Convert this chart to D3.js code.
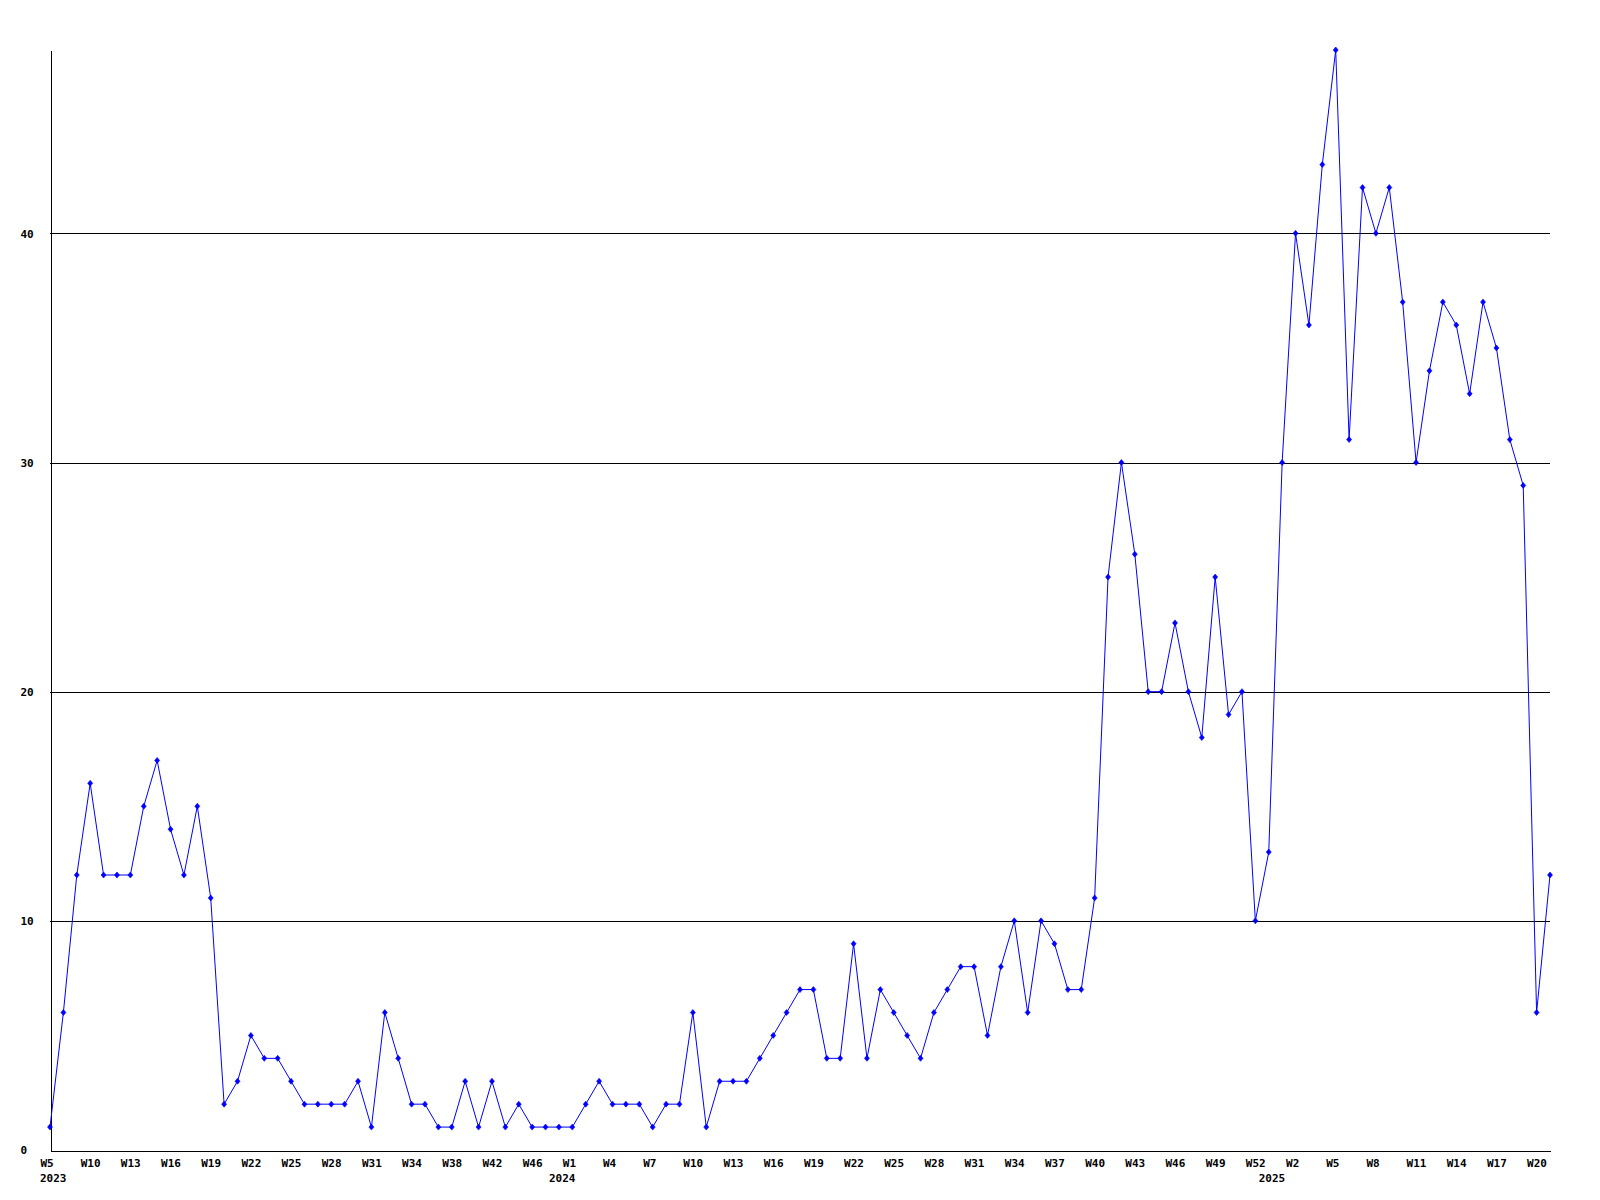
<!DOCTYPE html>
<html>
<head>
<meta charset="utf-8">
<script src="https://cdn.jsdelivr.net/npm/d3@7"></script>
<style>
  html, body { margin: 0; padding: 0; background: #ffffff; }
  svg { display: block; }
  text { font-family: "DejaVu Sans Mono", monospace; font-weight: bold; font-size: 11px; fill: #000; }
</style>
</head>
<body>
<svg id="chart" width="1600" height="1200"></svg>
<script>
// ---- data ----
const weeks2023 = ["W5","W7","W8","W10","W11","W12","W13","W14","W15","W16","W17","W18","W19","W20","W21","W22","W23","W24","W25","W26","W27","W28","W29","W30","W31","W32","W33","W34","W35","W36","W38","W39","W40","W42","W43","W44","W46","W48"];
const weeks2024 = ["W0","W1","W2","W3","W4","W5","W6","W7","W8","W9","W10","W11","W12","W13","W14","W15","W16","W17","W18","W19","W20","W21","W22","W23","W24","W25","W26","W27","W28","W29","W30","W31","W32","W33","W34","W35","W36","W37","W38","W39","W40","W41","W42","W43","W44","W45","W46","W47","W48","W49","W50","W51","W52"];
const weeks2025 = ["W0","W1","W2","W3","W4","W5","W6","W7","W8","W9","W10","W11","W12","W13","W14","W15","W16","W17","W18","W19","W20","W21"];
const yearNames = ["2023","2024","2025"];
const values = [
  1,6,12,16,12,12,12,15,17,14,
  12,15,11,2,3,5,4,4,3,2,
  2,2,2,3,1,6,4,2,2,1,
  1,3,1,3,1,2,1,1,1,1,
  2,3,2,2,2,1,2,2,6,1,
  3,3,3,4,5,6,7,7,4,4,
  9,4,7,6,5,4,6,7,8,8,
  5,8,10,6,10,9,7,7,11,25,
  30,26,20,20,23,20,18,25,19,20,
  10,13,30,40,36,43,48,31,42,40,
  42,37,30,34,37,36,33,37,35,31,
  29,6,12
];
const yTicks = [0,10,20,30,40];
const yMax = 48;

(function () {
  // ---- build table ----
  const weekLists = [weeks2023, weeks2024, weeks2025];
  const points = [];
  weekLists.forEach((list, yi) => list.forEach(w => points.push({year: yearNames[yi], week: w})));
  points.forEach((p, i) => { p.value = values[i]; p.key = p.year + "-" + p.week; p.idx = i; });

  // ---- layout ----
  const plotLeft = 50, plotRight = 1550, plotTop = 50, plotBottom = 1150;
  const svg = d3.select("#chart");

  const x = d3.scalePoint().domain(points.map(p => p.key)).range([plotLeft, plotRight]);
  const y = d3.scaleLinear().domain([0, yMax]).range([plotBottom, plotTop]);

  // grid lines
  svg.append("g").selectAll("line")
    .data(yTicks.filter(t => t > 0))
    .join("line")
    .attr("x1", plotLeft).attr("x2", plotRight)
    .attr("y1", d => Math.round(y(d)) + 0.5).attr("y2", d => Math.round(y(d)) + 0.5)
    .attr("stroke", "#000").attr("stroke-width", 1)
    .attr("shape-rendering", "crispEdges");

  // y axis
  const yAxis = svg.append("g").attr("transform", `translate(${plotLeft + 0.5},0)`)
    .call(d3.axisLeft(y).tickValues(yTicks).tickSize(0).tickPadding(0).tickFormat(d3.format("d")));
  yAxis.select(".domain").attr("stroke", "#000").attr("shape-rendering", "crispEdges");
  yAxis.selectAll(".tick text")
    .attr("text-anchor", "start")
    .attr("x", 20 - plotLeft)
    .attr("dy", "0.35em")
    .style("font-family", '"DejaVu Sans Mono", monospace')
    .style("font-weight", "bold")
    .style("font-size", "11px");

  // x axis
  const tickKeys = points.filter(p => p.idx % 3 === 0).map(p => p.key);
  const labelOf = new Map(points.map(p => [p.key, p.week]));
  const xAxis = svg.append("g").attr("transform", `translate(0,${plotBottom + 0.5})`)
    .call(d3.axisBottom(x).tickValues(tickKeys).tickSize(0).tickPadding(0).tickFormat(k => labelOf.get(k)));
  xAxis.select(".domain").attr("stroke", "#000").attr("shape-rendering", "crispEdges");
  xAxis.selectAll(".tick text")
    .attr("text-anchor", "start")
    .attr("x", -10)
    .attr("y", 16)
    .attr("dy", 0)
    .style("font-family", '"DejaVu Sans Mono", monospace')
    .style("font-weight", "bold")
    .style("font-size", "11px");

  // year labels where the year changes
  const yearStarts = points.filter((p, i) => i === 0 || points[i - 1].year !== p.year);
  svg.append("g").selectAll("text")
    .data(yearStarts)
    .join("text")
    .attr("x", d => x(d.key) - 10)
    .attr("y", plotBottom + 32)
    .attr("text-anchor", "start")
    .text(d => d.year);

  // line
  const line = d3.line().x(d => x(d.key)).y(d => y(d.value));
  svg.append("path")
    .datum(points)
    .attr("d", line)
    .attr("fill", "none")
    .attr("stroke", "#0000ff")
    .attr("stroke-width", 1);

  // markers
  const diamond = "M0,-3L2.5,0L0,3L-2.5,0Z";
  svg.append("g").selectAll("path")
    .data(points)
    .join("path")
    .attr("transform", d => `translate(${x(d.key)},${y(d.value)})`)
    .attr("d", diamond)
    .attr("fill", "#0000ff")
    .attr("stroke", "#0000ff")
    .attr("stroke-width", 0.6);
})();
</script>
</body>
</html>
